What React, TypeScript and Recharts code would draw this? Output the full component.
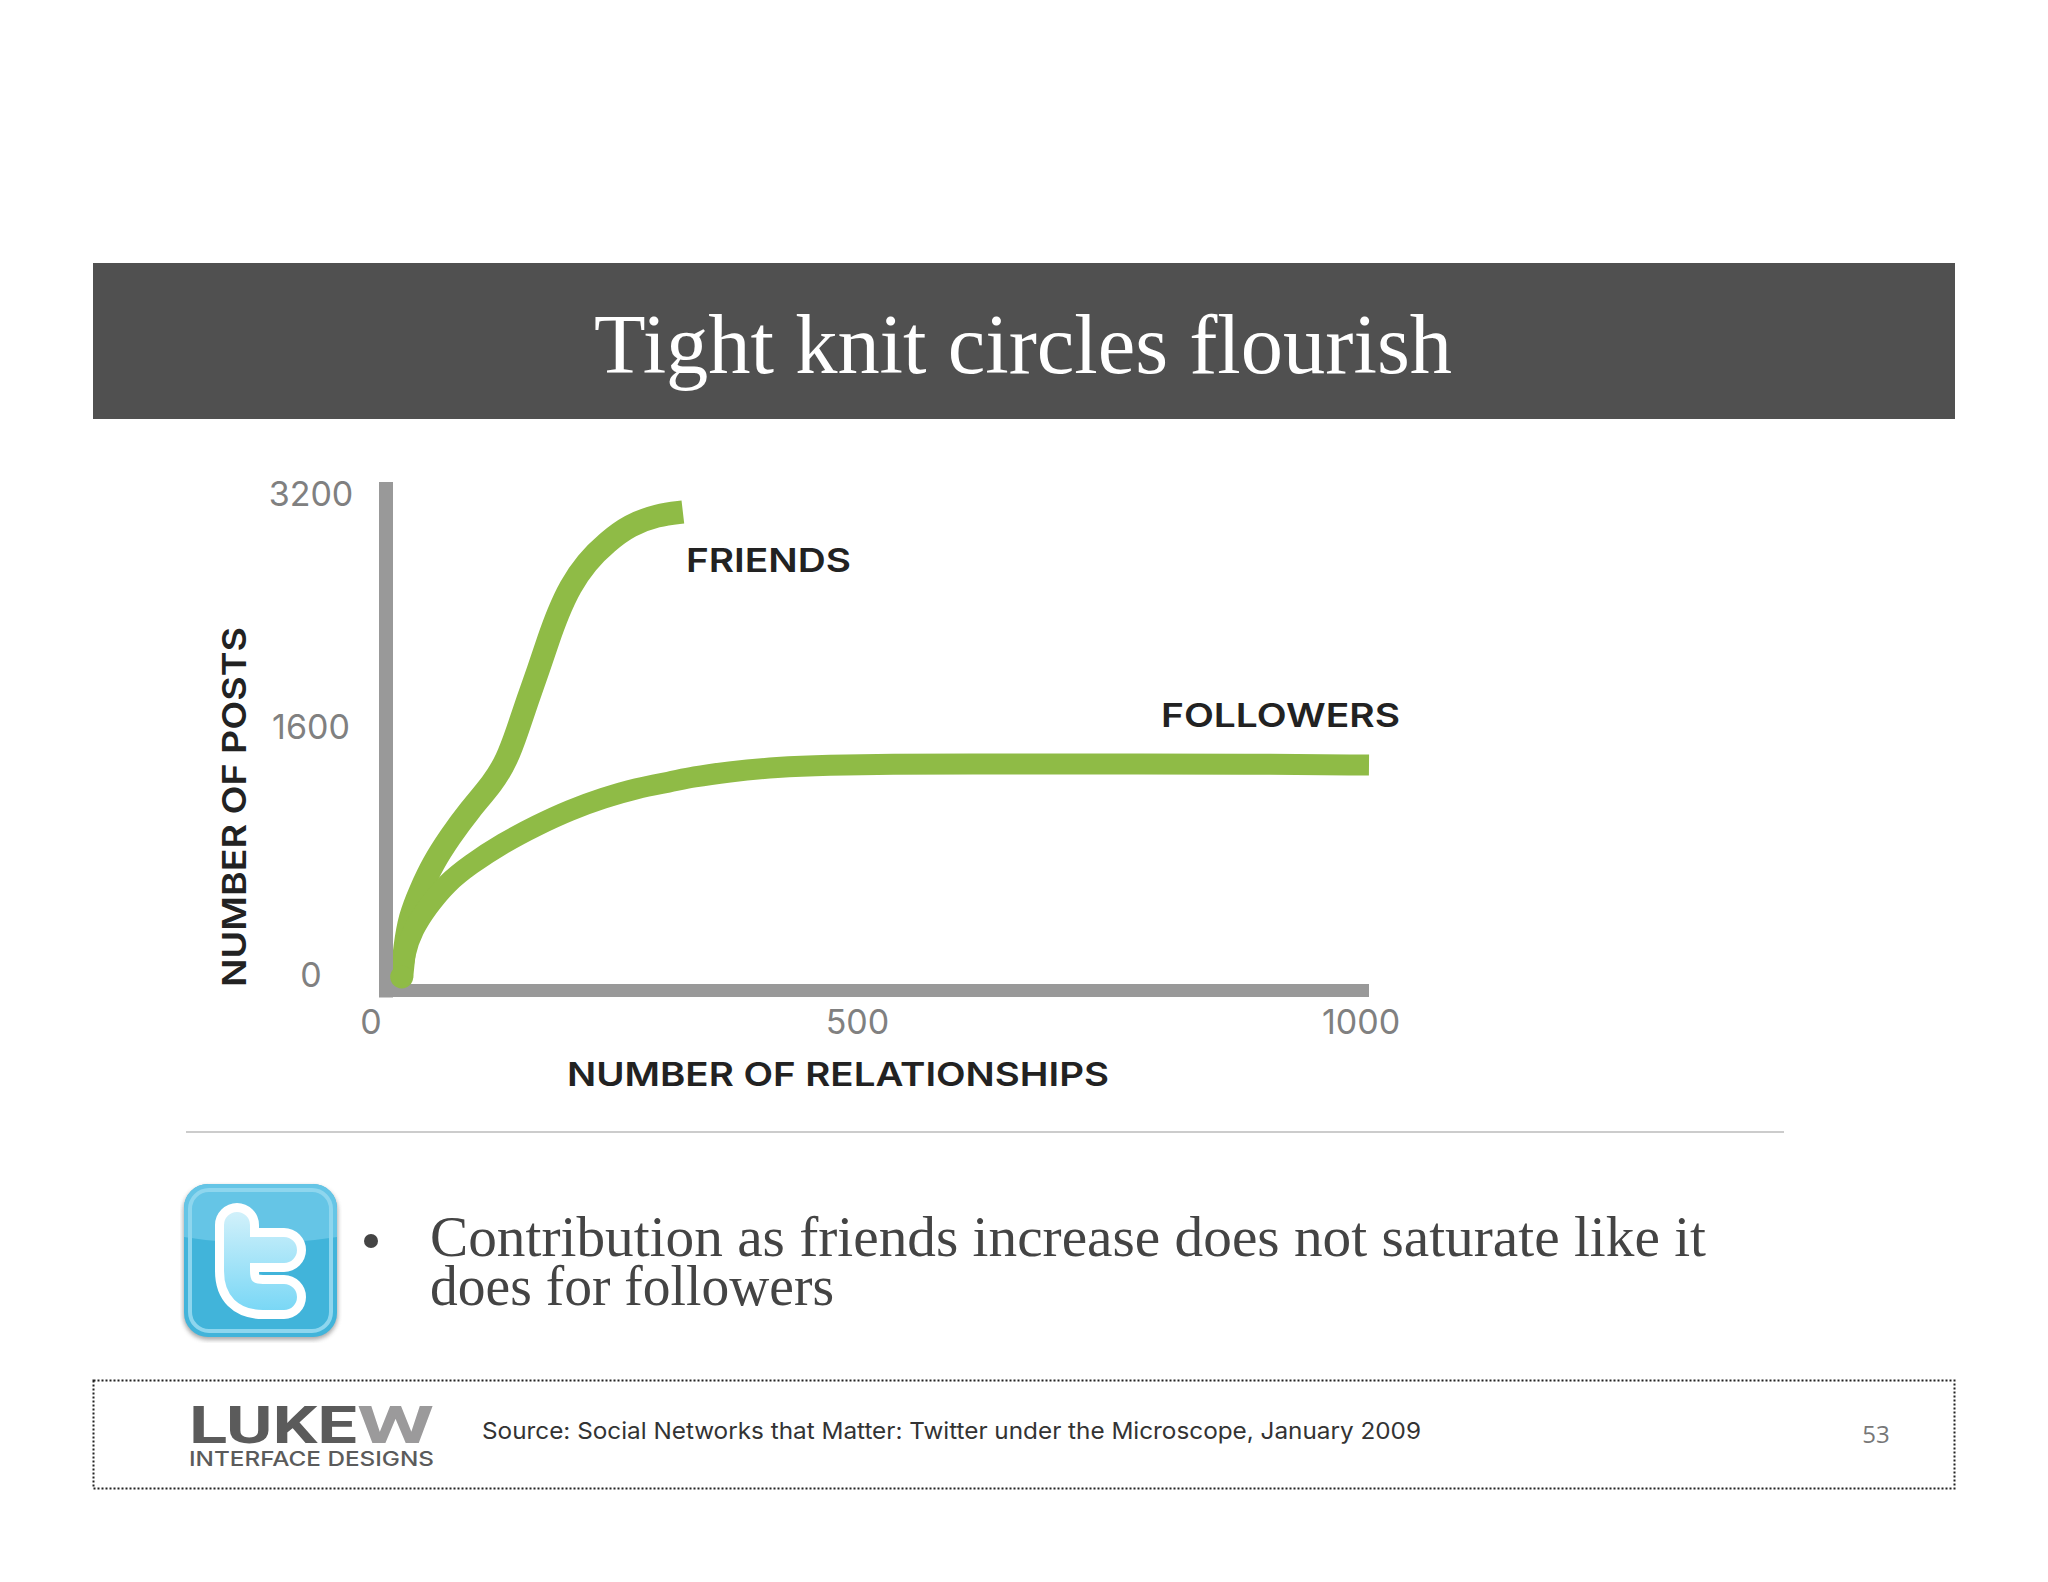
import { LineChart, Line, XAxis, YAxis } from "recharts";

const friendsX = [16, 19, 24, 35, 48, 65, 85, 109, 123, 134, 144, 155, 165, 175, 187, 204, 225, 248, 276, 302];
const friendsY = [-20, 180, 380, 559, 739, 912, 1092, 1272, 1425, 1625, 1824, 2024, 2224, 2403, 2577, 2743, 2876, 2989, 3056, 3076];
const followersX = [16, 19, 27, 42, 62, 85, 119, 154, 187, 221, 255, 289, 312, 347, 398, 449, 516, 584, 726, 879, 1000];
const followersY = [-20, 140, 293, 446, 606, 726, 872, 992, 1092, 1172, 1238, 1278, 1312, 1345, 1378, 1391, 1398, 1398, 1398, 1398, 1391];
const xTicks = [0, 500, 1000];
const yTicks = [0, 1600, 3200];

const friends = friendsX.map((x, i) => ({ x, y: friendsY[i] }));
const followers = followersX.map((x, i) => ({ x, y: followersY[i] }));

const GREEN = "#8fbb46";
const AXIS = "#999999";
const SANS = "Inter, 'Open Sans', sans-serif";
const SERIF = "'Liberation Serif', serif";

function XTick({ x, y, payload }: any) {
  const shift = payload.value === 0 ? -15 : payload.value === 500 ? -20 : -8;
  return (
    <text x={x + shift} y={y + 35} textAnchor="middle" fontFamily={SANS} fontSize={34} fill="#808080">
      {payload.value}
    </text>
  );
}

function YTick({ y, payload }: any) {
  const shift = payload.value === 1600 ? -8 : 0;
  return (
    <text x={311} y={y + shift + 13} textAnchor="middle" fontFamily={SANS} fontSize={34} fill="#808080">
      {payload.value}
    </text>
  );
}

function startCap({ cx, cy, index }: any) {
  if (index !== 0) return <g key={index} />;
  return <circle key={index} cx={cx} cy={cy} r={11.5} fill={GREEN} />;
}

function Heading({ children, width, ...rest }: any) {
  return (
    <text
      fontFamily={SANS}
      fontSize={33}
      fontWeight={600}
      fill="#222222"
      textLength={width}
      lengthAdjust="spacingAndGlyphs"
      {...rest}
    >
      {children}
    </text>
  );
}

function TwitterIcon() {
  return (
    <svg x={180} y={1181} width={162} height={162} viewBox="-3 -2 162 162">
      <defs>
        <linearGradient id="tw-fill" x1="0" y1="20" x2="0" y2="136" gradientUnits="userSpaceOnUse">
          <stop offset="0" stopColor="#d9f3fb" />
          <stop offset="1" stopColor="#72d5f5" />
        </linearGradient>
        <filter id="tw-shadow" x="-10%" y="-10%" width="120%" height="120%">
          <feGaussianBlur stdDeviation="2" />
        </filter>
      </defs>
      <rect x={0} y={3} width={155} height={154} rx={25} fill="#777777" opacity={0.6} filter="url(#tw-shadow)" />
      <rect x={1} y={1} width={153} height={153} rx={24} fill="#41b4da" />
      <path d="M1 25 a24 24 0 0 1 24 -24 H130 a24 24 0 0 1 24 24 V54 Q76 66 1 54 Z" fill="#65c5e6" />
      <rect x={7} y={7} width={141} height={141} rx={19} fill="none" stroke="#8ed6ee" strokeWidth={4} />
      <g fill="none" strokeLinecap="round" strokeLinejoin="round">
        <path d="M54 42 V88 Q54 114 80 114 H101 M54 67 H101" stroke="#ffffff" strokeWidth={44} />
        <path d="M54 42 V88 Q54 114 80 114 H101 M54 67 H101" stroke="url(#tw-fill)" strokeWidth={26} />
      </g>
    </svg>
  );
}

function Slide() {
  return (
    <svg width={2048} height={1582} style={{ position: "absolute", left: 0, top: 0 }}>
      <rect x={93} y={263} width={1862} height={156} fill="#505050" />
      <text
        x={594}
        y={373}
        fontFamily={SERIF}
        fontSize={84}
        fill="#ffffff"
        textLength={858}
        lengthAdjust="spacingAndGlyphs"
      >
        Tight knit circles flourish
      </text>

      <Heading transform="translate(246 807) rotate(-90)" textAnchor="middle" width={360}>
        NUMBER OF POSTS
      </Heading>
      <Heading x={567} y={1086} width={542}>
        NUMBER OF RELATIONSHIPS
      </Heading>
      <Heading x={686} y={572} width={165}>
        FRIENDS
      </Heading>
      <Heading x={1161} y={727} width={239}>
        FOLLOWERS
      </Heading>

      <line x1={186} y1={1132} x2={1784} y2={1132} stroke="#cccccc" strokeWidth={2} />

      <TwitterIcon />
      <circle cx={371} cy={1241} r={7} fill="#444444" />
      <text x={430} y={1256} fontFamily={SERIF} fontSize={57} fill="#444444" textLength={1276} lengthAdjust="spacingAndGlyphs">
        Contribution as friends increase does not saturate like it
      </text>
      <text x={430} y={1305} fontFamily={SERIF} fontSize={57} fill="#444444" textLength={404} lengthAdjust="spacingAndGlyphs">
        does for followers
      </text>

      <rect
        x={93.5}
        y={1380.5}
        width={1861}
        height={108}
        fill="none"
        stroke="#222222"
        strokeWidth={2}
        strokeDasharray="2 2"
      />
      <text x={189} y={1443} fontFamily="Roboto, sans-serif" fontWeight={700} fontSize={51} fill="#5b5b5b" textLength={168} lengthAdjust="spacingAndGlyphs">
        LUKE
      </text>
      <text x={357} y={1443} fontFamily="Roboto, sans-serif" fontWeight={700} fontSize={51} fill="#9b9a9b" textLength={77} lengthAdjust="spacingAndGlyphs">
        W
      </text>
      <text x={189} y={1466} fontFamily={SANS} fontSize={20} fontWeight={500} fill="#5b5b5b" textLength={245} lengthAdjust="spacingAndGlyphs">
        INTERFACE DESIGNS
      </text>
      <text x={482} y={1439} fontFamily={SANS} fontSize={23} fill="#333333" textLength={939} lengthAdjust="spacingAndGlyphs">
        Source: Social Networks that Matter: Twitter under the Microscope, January 2009
      </text>
      <text x={1876} y={1443} textAnchor="middle" fontFamily="'Open Sans', sans-serif" fontSize={24} fill="#777777">
        53
      </text>
    </svg>
  );
}

export default function App() {
  return (
    <div style={{ position: "absolute", left: 0, top: 0, width: 2048, height: 1582, background: "#ffffff" }}>
      <Slide />
      <div style={{ position: "absolute", left: 0, top: 0 }}>
        <LineChart width={2048} height={1582} margin={{ top: 489, left: 326, right: 679, bottom: 531.5 }}>
          <XAxis
            dataKey="x"
            type="number"
            domain={[0, 1000]}
            ticks={xTicks}
            height={60}
            tickLine={false}
            axisLine={{ stroke: AXIS, strokeWidth: 13 }}
            tick={<XTick />}
            allowDuplicatedCategory={false}
          />
          <YAxis
            type="number"
            domain={[-110, 3229]}
            ticks={yTicks}
            width={60}
            tickLine={false}
            axisLine={{ stroke: AXIS, strokeWidth: 14, strokeLinecap: "square" }}
            tick={<YTick />}
          />
          <Line
            data={friends}
            dataKey="y"
            type="basis"
            stroke={GREEN}
            strokeWidth={23}
            dot={startCap}
            activeDot={false}
            isAnimationActive={false}
          />
          <Line
            data={followers}
            dataKey="y"
            type="basis"
            stroke={GREEN}
            strokeWidth={21}
            dot={false}
            activeDot={false}
            isAnimationActive={false}
          />
        </LineChart>
      </div>
    </div>
  );
}
